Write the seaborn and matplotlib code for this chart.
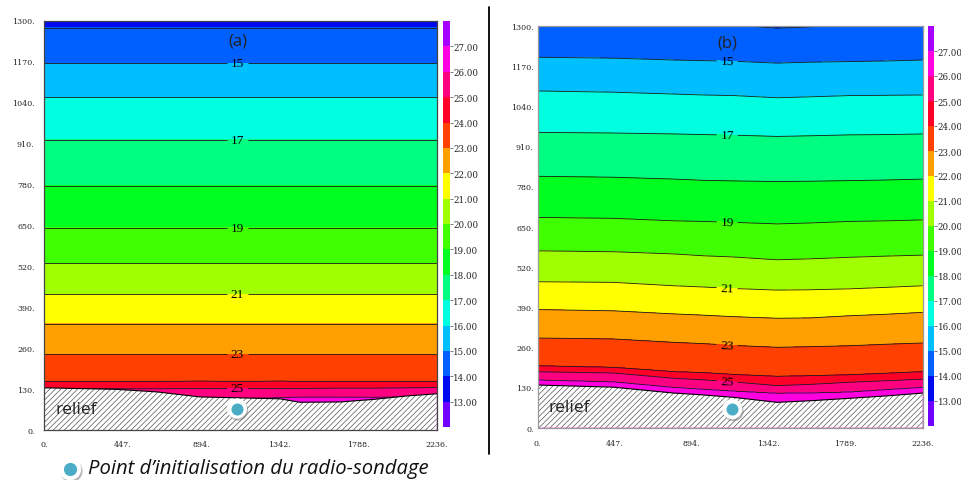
import numpy as np
import matplotlib
matplotlib.use("Agg")
import matplotlib.pyplot as plt
import seaborn as sns
from matplotlib.colors import ListedColormap, BoundaryNorm
import matplotlib.cm as cm
import matplotlib.patheffects as pe

# ---------------- data ----------------
# temperature levels of the contour lines (deg C)
line_levels = [14, 15, 16, 17, 18, 19, 20, 21, 22, 23, 24, 25, 26]
label_levels = [15, 17, 19, 21, 23, 25]

# panel (a): horizontal positions (m) and heights (m) of each isotherm
xa = [0, 412, 640, 887, 1114, 1342, 1456, 1684, 1873, 2063, 2236]
ha_14 = [1277] * 11
ha_15 = [1165] * 11
ha_16 = [1056] * 11
ha_17 = [921] * 11
ha_18 = [775] * 11
ha_19 = [642] * 11
ha_20 = [529] * 11
ha_21 = [431] * 11
ha_22 = [337] * 11
ha_23 = [241] * 11
ha_24 = [154, 154, 154, 155, 154, 155, 154, 154, 154, 154, 154]
ha_25 = [131, 131, 131, 132, 132, 132, 132, 133, 133, 134, 135]
ha_26 = [90, 95, 100, 100, 100, 103, 105, 105, 104, 106, 100]
ground_a = [134, 129, 121, 105, 102, 99, 88, 89, 97, 108, 115]

# panel (b)
xb = [0, 440, 790, 960, 1140, 1390, 1580, 1810, 2030, 2236]
hb_14 = [1310, 1310, 1308, 1306, 1302, 1292, 1296, 1303, 1306, 1308]
hb_15 = [1198, 1195, 1189, 1187, 1185, 1179, 1182, 1184, 1186, 1189]
hb_16 = [1089, 1085, 1079, 1076, 1074, 1067, 1070, 1074, 1075, 1076]
hb_17 = [955, 953, 950, 948, 946, 942, 944, 947, 948, 950]
hb_18 = [813, 810, 804, 800, 798, 796, 797, 799, 801, 804]
hb_19 = [680, 677, 669, 667, 664, 659, 662, 667, 669, 672]
hb_20 = [572, 569, 562, 556, 552, 543, 546, 551, 555, 558]
hb_21 = [472, 470, 459, 455, 450, 445, 446, 449, 454, 459]
hb_22 = [382, 378, 368, 364, 359, 354, 355, 362, 367, 373]
hb_23 = [290, 287, 276, 272, 266, 260, 262, 265, 270, 274]
hb_24 = [200, 195, 181, 178, 172, 166, 168, 171, 176, 181]
hb_25 = [181, 177, 160, 155, 148, 136, 140, 147, 152, 157]
hb_26 = [155, 149, 131, 125, 119, 112, 113, 116, 124, 131]
ground_b = [138, 131, 112, 106, 98, 82, 87, 95, 103, 112]

# radio-sounding initialisation point (x, z)
sounding_a = (1097, 68)
sounding_b = (1130, 60)

# colour scale
cbar_bounds = list(range(12, 29))
cbar_ticks = list(range(13, 28))
band_colors = ["#7000FF", "#0008F0", "#0060FF", "#00BFFF", "#00FFE0",
               "#00FF80", "#00FF20", "#40FF00", "#A0FF00", "#FFFF00",
               "#FFA000", "#FF4000", "#FF0028", "#FF0080", "#FF00E0",
               "#A800FF"]

x_ticks = [0, 447.2, 894.4, 1341.6, 1788.8, 2236]
x_labels_a = ["0.", "447.", "894.", "1342.", "1788.", "2236."]
x_labels_b = ["0.", "447.", "894.", "1342.", "1789.", "2236."]
y_ticks = list(range(0, 1301, 130))
y_labels = [f"{v}." for v in y_ticks]

# ---------------- drawing ----------------
sns.set_theme(style="white")
plt.rcParams["hatch.linewidth"] = 0.5

W, H = 961, 481
fig = plt.figure(figsize=(W / 100, H / 100), dpi=100)

cmap = ListedColormap(band_colors)
norm = BoundaryNorm(cbar_bounds, cmap.N)


def px_rect(l, t, r, b):
    return [l / W, (H - b) / H, (r - l) / W, (b - t) / H]


def field(xs, lines):
    xf = np.linspace(0, 2236, 700)
    zf = np.linspace(0, 1300, 800)
    # helper extents outside the frame: 13 far above, 27 far below
    hl = [np.full_like(xf, -200.0)] + [np.interp(xf, xs, h) for h in lines[::-1]] + [np.full_like(xf, 1450.0)]
    temps = [27] + line_levels[::-1] + [13]
    T = np.empty((zf.size, xf.size))
    for j in range(xf.size):
        heights = np.array([h[j] for h in hl])
        T[:, j] = np.interp(zf, heights, temps)
    return xf, zf, T


def panel(rect, xs, lines, ground, sounding, tag, tag_y, xlabels, spine_col, ypad, xpad, label_x):
    ax = fig.add_axes(rect)
    xf, zf, T = field(xs, lines)
    ax.contourf(xf, zf, T, levels=cbar_bounds, cmap=cmap, norm=norm, zorder=1)
    plain = [lv for lv in line_levels if lv not in label_levels]
    ax.contour(xf, zf, T, levels=plain, colors="k", linewidths=0.6, zorder=2)
    cs = ax.contour(xf, zf, T, levels=label_levels, colors="k", linewidths=0.6, zorder=2)
    manual = []
    for lv in label_levels:
        h = lines[line_levels.index(lv)]
        manual.append((label_x, float(np.interp(label_x, xs, h))))
    txts = ax.clabel(cs, manual=manual, fmt="%d",
                     fontsize=9.5, inline=True, inline_spacing=2)
    for t in txts:
        t.set_fontfamily("Liberation Serif")
        t.set_color("black")
    gf = np.interp(xf, xs, ground)
    ax.fill_between(xf, 0, gf, facecolor="white", edgecolor="#555555",
                    hatch="//////", linewidth=0, zorder=3)
    sns.lineplot(x=xs, y=ground, color="black", linewidth=0.8, ax=ax, zorder=4)
    ax.text(0.028, 0.052, "relief", transform=ax.transAxes, fontsize=12.5,
            family="Open Sans", color="#222222", va="center", ha="left", zorder=6)
    ax.text(label_x, tag_y, tag, fontsize=12, family="Open Sans", color="#222222",
            ha="center", va="center", zorder=6)
    ax.scatter([sounding[0]], [sounding[1]], s=210, color="white", zorder=6,
               linewidths=0, path_effects=[pe.SimplePatchShadow(offset=(1, -1.5), shadow_rgbFace="#777777", alpha=0.5), pe.Normal()])
    ax.scatter([sounding[0]], [sounding[1]], s=75, color="#4BACC6", zorder=7, linewidths=0)
    ax.set_xlim(0, 2236)
    ax.set_ylim(0, 1300)
    ax.set_xticks(x_ticks)
    ax.set_xticklabels(xlabels)
    ax.set_yticks(y_ticks)
    ax.set_yticklabels(y_labels)
    ax.tick_params(axis="both", direction="in", length=4, width=0.6, color="#333333",
                   top=True, right=True, bottom=True, left=True, labelsize=5.7,
                   labelcolor="#222222")
    ax.tick_params(axis="y", pad=ypad)
    ax.tick_params(axis="x", pad=xpad)
    for lab in ax.get_xticklabels() + ax.get_yticklabels():
        lab.set_fontfamily("DejaVu Serif")
    for s in ax.spines.values():
        s.set_color(spine_col)
        s.set_linewidth(0.9)
        s.set_zorder(8)
    ax.set_xlabel("")
    ax.set_ylabel("")
    return ax


def colorbar(rect):
    cax = fig.add_axes(rect)
    sm = cm.ScalarMappable(norm=norm, cmap=cmap)
    cb = fig.colorbar(sm, cax=cax, ticks=cbar_ticks)
    cb.outline.set_visible(False)
    cb.ax.minorticks_off()
    cb.ax.set_yticks(cbar_ticks)
    cb.ax.set_yticklabels([f"{v:.2f}" for v in cbar_ticks])
    cb.ax.tick_params(which="both", length=2, width=0.5, pad=0.3, labelsize=6.2, color="#444444",
                      labelcolor="#222222", direction="out")
    cb.ax.tick_params(which="minor", length=0)
    for lab in cb.ax.get_yticklabels():
        lab.set_fontfamily("DejaVu Serif")
    return cb


lines_a = [ha_14, ha_15, ha_16, ha_17, ha_18, ha_19, ha_20, ha_21, ha_22, ha_23, ha_24, ha_25, ha_26]
lines_b = [hb_14, hb_15, hb_16, hb_17, hb_18, hb_19, hb_20, hb_21, hb_22, hb_23, hb_24, hb_25, hb_26]

panel(px_rect(44.3, 21.5, 436.8, 431), xa, lines_a, ground_a, sounding_a, "(a)", 1236,
      x_labels_a, "#444444", 7, 7, 1100)
panel(px_rect(537.7, 26.7, 922.7, 428.7), xb, lines_b, ground_b, sounding_b, "(b)", 1247,
      x_labels_b, "#999999", 3, 8, 1100)
colorbar(px_rect(443.3, 22, 449.8, 428))
colorbar(px_rect(928.3, 27, 934.3, 427))

# overlay in pixel coordinates for the separator and the legend
ov = fig.add_axes([0, 0, 1, 1])
ov.set_xlim(0, W)
ov.set_ylim(H, 0)
ov.axis("off")
ov.patch.set_visible(False)
ov.plot([489, 489], [8, 455], color="black", linewidth=1.3)
ov.scatter([70], [470], s=260, color="white", linewidths=0,
           path_effects=[pe.SimplePatchShadow(offset=(1, -1.5), shadow_rgbFace="#777777", alpha=0.5), pe.Normal()])
ov.scatter([70], [470], s=90, color="#4BACC6", linewidths=0)
ov.text(88, 469, "Point d\u2019initialisation du radio-sondage", fontsize=14.6,
        family="Open Sans", style="italic", color="#111111", ha="left", va="center")

fig.savefig("out.png", dpi=100)
